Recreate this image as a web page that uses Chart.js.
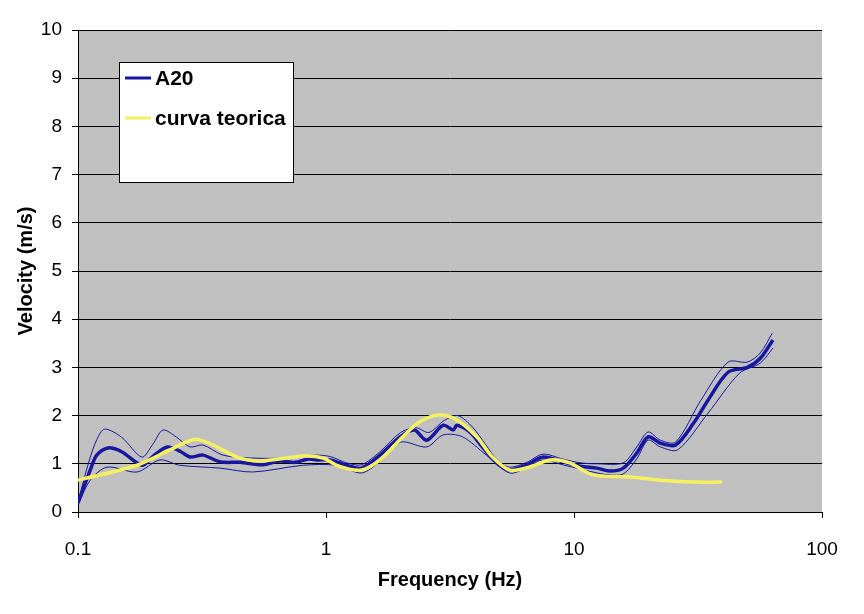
<!DOCTYPE html>
<html>
<head>
<meta charset="utf-8">
<script src="https://cdn.jsdelivr.net/npm/chart.js@4"></script>
<style>
  body { margin: 0; background: #fff; }
  #wrap { width: 864px; height: 614px; }
</style>
</head>
<body>
<div id="wrap"><canvas id="chart"></canvas></div>
<script>
// frequency (Hz) / velocity (m/s)
const meanFreq = [0.1, 0.112, 0.119, 0.132, 0.15, 0.181, 0.2, 0.229, 0.26, 0.283, 0.319, 0.374, 0.45, 0.557, 0.65, 0.75, 0.85, 0.92, 1.04, 1.21, 1.39, 1.65, 1.99, 2.27, 2.55, 2.97, 3.26, 3.37, 3.8, 4.3, 4.87, 5.5, 6.45, 7.52, 9.0, 10.6, 12.4, 13.9, 15.8, 17.9, 19.9, 22.3, 25.7, 30.4, 34.7, 41.8, 50, 56.4, 63.4];
const meanVel = [0.19, 0.87, 1.18, 1.33, 1.25, 0.97, 1.15, 1.35, 1.25, 1.14, 1.18, 1.04, 1.03, 0.98, 1.06, 1.03, 1.1, 1.08, 1.08, 0.97, 0.91, 1.18, 1.56, 1.70, 1.49, 1.80, 1.70, 1.80, 1.66, 1.33, 1.02, 0.87, 0.98, 1.14, 1.04, 0.95, 0.91, 0.85, 0.91, 1.22, 1.56, 1.43, 1.39, 1.85, 2.32, 2.90, 3.0, 3.19, 3.57];

const upperFreq = [0.1, 0.11, 0.119, 0.128, 0.15, 0.181, 0.2, 0.22, 0.25, 0.283, 0.319, 0.384, 0.5, 0.7, 0.9, 1.04, 1.21, 1.39, 1.65, 2.0, 2.3, 2.6, 3.0, 3.4, 3.9, 4.4, 4.9, 5.5, 6.45, 7.5, 9, 10.6, 12.4, 15.8, 17.9, 19.9, 22.3, 25.7, 32.5, 41.8, 50, 56.4, 63];
const upperVel = [0.2, 1.0, 1.5, 1.72, 1.55, 1.14, 1.4, 1.70, 1.55, 1.35, 1.39, 1.18, 1.12, 1.12, 1.18, 1.15, 1.02, 0.98, 1.25, 1.65, 1.75, 1.65, 1.9, 2.0, 1.76, 1.4, 1.08, 0.93, 1.03, 1.2, 1.1, 1.02, 1.0, 1.02, 1.35, 1.66, 1.49, 1.45, 2.32, 3.11, 3.11, 3.3, 3.71];

const lowerFreq = [0.1, 0.112, 0.131, 0.173, 0.214, 0.257, 0.374, 0.507, 0.81, 1.1, 1.39, 1.65, 2.0, 2.55, 2.97, 3.55, 4.43, 5.5, 6.45, 7.5, 9, 12.4, 13.9, 15.8, 17.9, 19.9, 22.3, 26.2, 34.7, 46.5, 56.4, 63.4];
const lowerVel = [0.15, 0.66, 0.93, 0.83, 1.08, 0.97, 0.91, 0.83, 0.97, 0.97, 0.81, 1.05, 1.45, 1.35, 1.6, 1.56, 1.18, 0.81, 0.92, 1.08, 0.98, 0.81, 0.77, 0.79, 1.1, 1.49, 1.35, 1.29, 2.05, 2.88, 3.09, 3.4];

const theoFreq = [0.1, 0.173, 0.235, 0.296, 0.35, 0.438, 0.54, 0.81, 0.97, 1.14, 1.39, 1.65, 2.04, 2.39, 2.87, 3.37, 4.05, 4.69, 5.5, 6.6, 8.0, 9.6, 11.9, 16.4, 22.3, 30.4, 39.5];
const theoVel = [0.66, 0.97, 1.29, 1.51, 1.39, 1.14, 1.06, 1.16, 1.12, 0.94, 0.87, 1.08, 1.56, 1.87, 2.01, 1.91, 1.56, 1.14, 0.87, 0.93, 1.08, 1.02, 0.77, 0.73, 0.66, 0.62, 0.62];

const xTicks = [0.1, 1, 10, 100];
const legendOrder = ["A20", "curva teorica"];

const toPts = (xs, ys) => xs.map((x, i) => ({ x: x, y: ys[i] }));

const blue = "#1616a0";
const yellow = "#f5f060";
const font = "'Liberation Sans', Arial, sans-serif";

// gray plot background
const plotBg = {
  id: "plotBg",
  beforeDraw(chart) {
    const a = chart.chartArea, ctx = chart.ctx;
    ctx.save();
    ctx.fillStyle = "#c0c0c0";
    ctx.fillRect(a.left, a.top, a.right - a.left, a.bottom - a.top);
    ctx.restore();
  }
};

// legend box inside the plot
const boxLegend = {
  id: "boxLegend",
  afterDraw(chart) {
    const ctx = chart.ctx;
    const sets = chart.data.datasets;
    ctx.save();
    ctx.fillStyle = "#fff";
    ctx.fillRect(119, 62, 174, 120);
    ctx.strokeStyle = "#000";
    ctx.lineWidth = 1;
    ctx.strokeRect(119.5, 62.5, 174, 120);
    ctx.font = "bold 21px " + font;
    ctx.textBaseline = "middle";
    legendOrder.forEach((name, i) => {
      const d = sets.find(s => s.label === name);
      const y = 78 + i * 40;
      ctx.strokeStyle = d.borderColor;
      ctx.lineWidth = 3;
      ctx.beginPath();
      ctx.moveTo(125, y);
      ctx.lineTo(151, y);
      ctx.stroke();
      ctx.fillStyle = "#000";
      ctx.fillText(d.label, 155, y + 1);
    });
    ctx.restore();
  }
};

new Chart(document.getElementById("chart"), {
  type: "scatter",
  data: {
    datasets: [
      { label: "curva teorica", data: toPts(theoFreq, theoVel), borderColor: yellow, borderWidth: 3.5, order: 0 },
      { label: "A20", data: toPts(meanFreq, meanVel), borderColor: blue, borderWidth: 3.5, order: 1 },
      { label: "A20 max", data: toPts(upperFreq, upperVel), borderColor: blue, borderWidth: 1, order: 2 },
      { label: "A20 min", data: toPts(lowerFreq, lowerVel), borderColor: blue, borderWidth: 1, order: 3 }
    ].map(d => Object.assign({ showLine: true, pointRadius: 0, tension: 0.3, fill: false }, d))
  },
  options: {
    responsive: true,
    maintainAspectRatio: false,
    animation: false,
    layout: { padding: { top: 30, right: 42, left: 10, bottom: 18 } },
    plugins: { legend: { display: false }, tooltip: { enabled: false } },
    scales: {
      x: {
        type: "logarithmic",
        min: 0.1, max: 100,
        afterBuildTicks: s => { s.ticks = xTicks.map(v => ({ value: v })); },
        afterFit: s => { s.height = 84; },
        ticks: {
          color: "#000", padding: 20, maxRotation: 0,
          font: { family: font, size: 19 },
          callback: v => String(v)
        },
        grid: { drawOnChartArea: false, drawTicks: true, tickLength: 6, color: "#000" },
        border: { display: true, color: "#000", width: 1 },
        title: {
          display: true, text: "Frequency (Hz)", color: "#000", padding: { top: 4 },
          font: { family: font, size: 20, weight: "bold" }
        }
      },
      y: {
        min: 0, max: 10,
        afterFit: s => { s.width = 68; },
        ticks: {
          stepSize: 1, color: "#000", padding: 10,
          font: { family: font, size: 19 }
        },
        grid: { color: "#000", tickLength: 6, lineWidth: 1 },
        border: { display: true, color: "#000", width: 1 },
        title: {
          display: true, text: "Velocity (m/s)", color: "#000", padding: { bottom: 4 },
          font: { family: font, size: 20, weight: "bold" }
        }
      }
    }
  },
  plugins: [plotBg, boxLegend]
});
</script>
</body>
</html>
